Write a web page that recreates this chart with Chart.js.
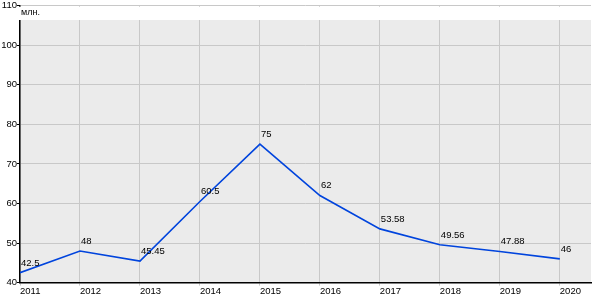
<!DOCTYPE html>
<html>
<head>
<meta charset="utf-8">
<script src="https://cdn.jsdelivr.net/npm/chart.js@4"></script>
<style>
  html, body { margin: 0; padding: 0; background: #fff; }
  #wrap { width: 600px; height: 300px; }
</style>
</head>
<body>
<div id="wrap"><canvas id="grafik"></canvas></div>
<script>
// данные
var years = [2011, 2012, 2013, 2014, 2015, 2016, 2017, 2018, 2019, 2020];
var values = [42.5, 48, 45.45, 60.5, 75, 62, 53.58, 49.56, 47.88, 46];
var yTicks = [40, 50, 60, 70, 80, 90, 100, 110];
var unitLabel = 'млн.';

var FONT = 'Liberation Sans, Arial, sans-serif';

// серый фон, белая полоса сверху, подписи значений
var fon = {
    id: 'fon',
    beforeDraw: function (chart) {
        var a = chart.chartArea, c = chart.ctx;
        c.save();
        c.fillStyle = '#ebebeb';
        c.fillRect(a.left, 20, a.right - a.left, a.bottom - 20);
        c.restore();
    },
    beforeDatasetsDraw: function (chart) {
        var a = chart.chartArea, c = chart.ctx;
        c.save();
        c.fillStyle = '#fff';
        c.fillRect(a.left - 1, a.top + 1, a.right - a.left + 2, 20 - a.top - 1);
        c.fillStyle = '#000';
        c.font = '9px ' + FONT;
        c.textBaseline = 'middle';
        c.textAlign = 'left';
        c.fillText(unitLabel, a.left + 1, 13);
        c.restore();
    },
    afterDatasetsDraw: function (chart) {
        var c = chart.ctx;
        var pts = chart.getDatasetMeta(0).data;
        c.save();
        c.fillStyle = '#000';
        c.font = '9.5px ' + FONT;
        c.textAlign = 'left';
        c.textBaseline = 'bottom';
        pts.forEach(function (p, i) {
            c.fillText(String(values[i]), p.x + 1, p.y - 5);
        });
        c.restore();
    }
};

var ctx = document.getElementById('grafik');
var grafik = new Chart(ctx, {
    type: 'line',
    data: {
        datasets: [{
            data: years.map(function (y, i) { return { x: y, y: values[i] }; }),
            borderColor: '#0044dd',
            borderWidth: 1.6,
            pointRadius: 0,
            fill: false,
            tension: 0
        }]
    },
    options: {
        responsive: true,
        maintainAspectRatio: false,
        animation: false,
        layout: { padding: { top: 1, right: 9, bottom: 3, left: 0 } },
        plugins: {
            legend: { display: false },
            tooltip: { enabled: false }
        },
        scales: {
            x: {
                type: 'linear',
                min: years[0],
                max: years[years.length - 1] + 0.52,
                afterBuildTicks: function (axis) {
                    axis.ticks = years.map(function (y) { return { value: y }; });
                },
                grid: {
                    color: '#c8c8c8',
                    tickLength: 3,
                    tickColor: '#c8c8c8'
                },
                border: { color: '#000', width: 1.5 },
                ticks: {
                    align: 'start',
                    padding: 0,
                    color: '#000',
                    font: { family: FONT, size: 9.5 },
                    callback: function (v) { return String(v); }
                }
            },
            y: {
                min: yTicks[0],
                max: yTicks[yTicks.length - 1],
                afterBuildTicks: function (axis) {
                    axis.ticks = yTicks.map(function (v) { return { value: v }; });
                },
                afterFit: function (axis) { axis.width = 20; },
                grid: {
                    color: '#c8c8c8',
                    tickLength: 3,
                    tickColor: '#000'
                },
                border: { color: '#000', width: 1.5 },
                ticks: {
                    padding: 0,
                    color: '#000',
                    font: { family: FONT, size: 9.5 }
                }
            }
        }
    },
    plugins: [fon]
});
</script>
</body>
</html>
